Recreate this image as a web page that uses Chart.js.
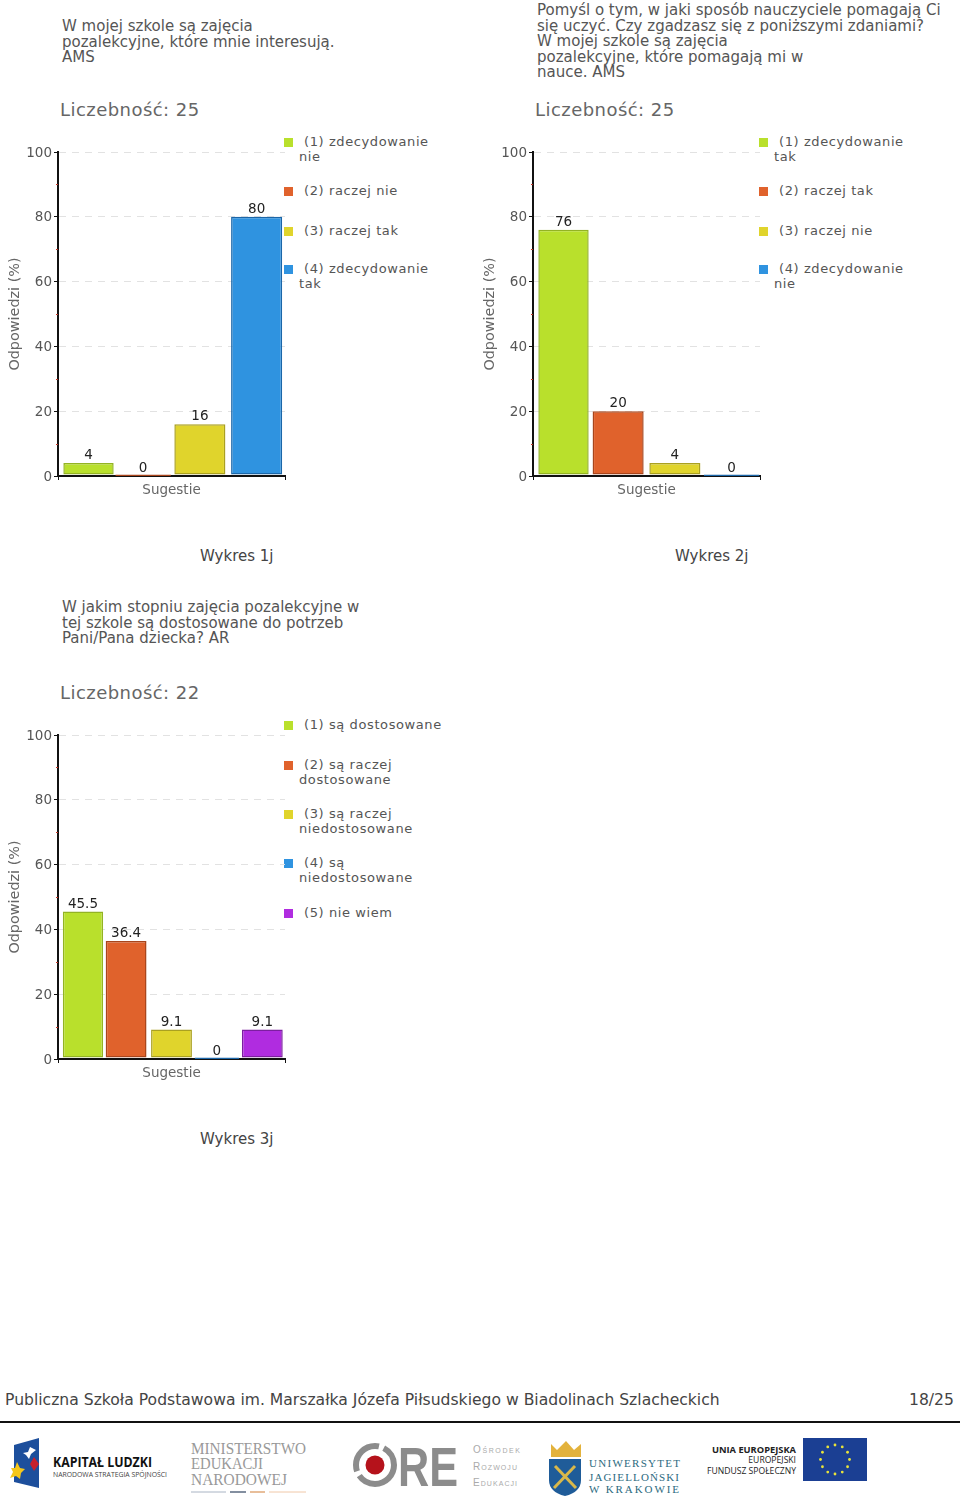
<!DOCTYPE html>
<html lang="pl">
<head>
<meta charset="utf-8">
<title>Wykresy</title>
<script src="https://cdn.jsdelivr.net/npm/chart.js@4"></script>
<style>
  html, body { margin: 0; padding: 0; background: #fff; }
  #page { position: relative; width: 960px; height: 1510px; overflow: hidden; font-family: "DejaVu Sans", sans-serif; }
  .t { position: absolute; white-space: nowrap; line-height: 16px; }
  .q { font-size: 15px; color: #555; }
  .count { font-size: 18px; color: #666; letter-spacing: 0.45px; line-height: 20px; }
  .cap { font-size: 15px; color: #444; }
  .leg { font-size: 13px; color: #555; letter-spacing: 0.6px; }
  .box { position: absolute; width: 9px; height: 9px; }
  canvas { position: absolute; }
  #logos { position: absolute; left: 0; top: 1420px; }
</style>
</head>
<body>
<div id="page">
  <div style="position:absolute;left:0;top:1421px;width:960px;height:2px;background:#111"></div>
  <div class="t" style="left:5px;top:1392px;font-size:15.6px;color:#444">Publiczna Szkoła Podstawowa im. Marszałka Józefa Piłsudskiego w Biadolinach Szlacheckich</div>
  <div class="t" style="left:909px;top:1392px;font-size:15.6px;color:#444">18/25</div>

  <svg id="logos" width="960" height="90" viewBox="0 0 960 90" xmlns="http://www.w3.org/2000/svg">
    <!-- Kapital Ludzki -->
    <polygon points="14,25 39,18 39,68 14,62" fill="#1d4f9c"/>
    <polygon points="30,27 36,30 31,34 29,39 26,35 23,33 28,32" fill="#fff"/>
    <polygon points="34,37 39,44 34,51 30,44" fill="#c8202c"/>
    <polygon points="17,42 20,48 25,49 21,53 20,59 16,56 10,58 13,52 11,48 15,48" fill="#f5c71a"/>
    <text x="53" y="47" font-family="Open Sans" font-weight="700" font-size="13.5" fill="#111" textLength="99" lengthAdjust="spacingAndGlyphs">KAPITAŁ LUDZKI</text>
    <text x="53" y="57" font-family="Open Sans" font-size="7.4" fill="#444" textLength="114" lengthAdjust="spacingAndGlyphs">NARODOWA STRATEGIA SPÓJNOŚCI</text>
    <!-- MEN -->
    <g font-family="Liberation Serif" font-size="16.5" fill="#999">
      <text x="191" y="34" textLength="115" lengthAdjust="spacingAndGlyphs">MINISTERSTWO</text>
      <text x="191" y="49" textLength="72" lengthAdjust="spacingAndGlyphs">EDUKACJI</text>
      <text x="191" y="65" textLength="96" lengthAdjust="spacingAndGlyphs">NARODOWEJ</text>
    </g>
    <line x1="191" y1="72" x2="226" y2="72" stroke="#a9b4c4" stroke-width="1"/>
    <line x1="230" y1="72" x2="246" y2="72" stroke="#5a6a80" stroke-width="1.5"/>
    <line x1="250" y1="72" x2="265" y2="72" stroke="#e0a878" stroke-width="1.5"/>
    <line x1="269" y1="72" x2="306" y2="72" stroke="#f0c8a8" stroke-width="1"/>
    <!-- ORE -->
    <circle cx="375" cy="45" r="19" fill="none" stroke="#8c8c8c" stroke-width="6" stroke-dasharray="48 5 40 5 21 0"/>
    <circle cx="375" cy="45" r="9.5" fill="#b5121b"/>
    <text x="398" y="66" font-family="Liberation Sans" font-weight="700" font-size="56" fill="#8c8c8c" textLength="60" lengthAdjust="spacingAndGlyphs">RE</text>
    <g font-family="Liberation Sans" font-size="10" fill="#aaa" style="font-variant:small-caps">
      <text x="473" y="33" textLength="47">Ośrodek</text>
      <text x="473" y="50" textLength="44">Rozwoju</text>
      <text x="473" y="66" textLength="44">Edukacji</text>
    </g>
    <!-- UJ -->
    <polygon points="551,37 551,24 557,30 566,21 574,30 581,24 581,37" fill="#e3b23c"/>
    <path d="M549 39 H581 V60 Q581 72 565 76 Q549 72 549 60 Z" fill="#1f5c99"/>
    <line x1="555" y1="46" x2="576" y2="68" stroke="#d9b84a" stroke-width="3"/>
    <line x1="575" y1="46" x2="554" y2="68" stroke="#d9b84a" stroke-width="3"/>
    <g font-family="Liberation Serif" font-size="11" fill="#2c6a80">
      <text x="589" y="47" textLength="91">UNIWERSYTET</text>
      <text x="589" y="61" textLength="90">JAGIELLOŃSKI</text>
      <text x="589" y="73" textLength="90">W KRAKOWIE</text>
    </g>
    <!-- UE -->
    <g font-family="Open Sans" fill="#222" text-anchor="end">
      <text x="796" y="33" font-size="9.3" font-weight="700">UNIA EUROPEJSKA</text>
      <text x="796" y="43" font-size="8.6">EUROPEJSKI</text>
      <text x="796" y="54" font-size="8.6">FUNDUSZ SPOŁECZNY</text>
    </g>
    <rect x="803" y="18" width="64" height="43" fill="#1b3f93"/>
    <g id="euStars" fill="#e8e33a"></g>
  </svg>
</div>

<script>
// values
const categories = ["Sugestie"];
const yTicks = [0, 20, 40, 60, 80, 100];
const minorTicks = [10, 30, 50, 70, 90];

const questions1 = ["W mojej szkole są zajęcia", "pozalekcyjne, które mnie interesują.", "AMS"];
const questions2 = ["Pomyśl o tym, w jaki sposób nauczyciele pomagają Ci", "się uczyć. Czy zgadzasz się z poniższymi zdaniami?", "W mojej szkole są zajęcia", "pozalekcyjne, które pomagają mi w", "nauce. AMS"];
const questions3 = ["W jakim stopniu zajęcia pozalekcyjne w", "tej szkole są dostosowane do potrzeb", "Pani/Pana dziecka? AR"];

const names1 = ["(1) zdecydowanie|nie", "(2) raczej nie", "(3) raczej tak", "(4) zdecydowanie|tak"];
const names2 = ["(1) zdecydowanie|tak", "(2) raczej tak", "(3) raczej nie", "(4) zdecydowanie|nie"];
const names3 = ["(1) są dostosowane", "(2) są raczej|dostosowane", "(3) są raczej|niedostosowane", "(4) są|niedostosowane", "(5) nie wiem"];

const values1 = [4, 0, 16, 80];
const values2 = [76, 20, 4, 0];
const values3 = [45.5, 36.4, 9.1, 0, 9.1];

const fills = ["#b9e02c", "#e0622c", "#e0d42c", "#2f93e0", "#b02ce0"];
const edges = ["#93b323", "#a8451c", "#aaa020", "#1b66a8", "#7c1ea0"];

const page = document.getElementById("page");

// value labels above the bars and the small red ticks on the value axis
const extras = {
    id: "extras",
    afterDatasetsDraw(chart) {
        const ctx = chart.ctx;
        const y = chart.scales.y;
        ctx.save();
        ctx.strokeStyle = "#c0392b";
        ctx.lineWidth = 1;
        minorTicks.forEach(v => {
            const py = Math.round(y.getPixelForValue(v)) + 0.5;
            ctx.beginPath();
            ctx.moveTo(y.right - 2, py);
            ctx.lineTo(y.right, py);
            ctx.stroke();
        });
        ctx.font = "13.5px 'DejaVu Sans'";
        ctx.fillStyle = "#222";
        ctx.textAlign = "center";
        ctx.textBaseline = "middle";
        chart.data.datasets.forEach((ds, i) => {
            const bar = chart.getDatasetMeta(i).data[0];
            ctx.fillText(String(ds.data[0]), bar.x, y.getPixelForValue(ds.data[0]) - 7.5);
        });
        ctx.restore();
    }
};

function addText(text, cls, left, top) {
    const el = document.createElement("div");
    el.className = "t " + cls;
    el.style.left = left + "px";
    el.style.top = top + "px";
    el.textContent = text;
    page.appendChild(el);
}

function addLegend(names, rows, dx, dy) {
    names.forEach((name, i) => {
        const box = document.createElement("div");
        box.className = "box";
        box.style.left = (284 + dx) + "px";
        box.style.top = (rows[i] - 3 + dy) + "px";
        box.style.background = fills[i];
        page.appendChild(box);
        const lines = name.split("|");
        addText(lines[0], "leg", 304 + dx, rows[i] - 7 + dy);
        if (lines[1]) addText(lines[1], "leg", 299 + dx, rows[i] + 8 + dy);
    });
}

function addChart(values, names, dx, dy) {
    const canvas = document.createElement("canvas");
    canvas.style.left = dx + "px";
    canvas.style.top = (130 + dy) + "px";
    canvas.style.width = "290px";
    canvas.style.height = "375px";
    page.appendChild(canvas);

    new Chart(canvas, {
        type: "bar",
        plugins: [extras],
        data: {
            labels: categories,
            datasets: values.map((v, i) => ({
                label: names[i].replace("|", " "),
                data: [v],
                base: 0.5,
                backgroundColor: fills[i],
                borderColor: edges[i],
                borderWidth: 1.5,
                borderSkipped: false,
                categoryPercentage: i === 0 ? 0.975 : 1,
                barPercentage: v === 0 ? 0.98 : (i === 0 ? 0.91 : 0.9)
            }))
        },
        options: {
            responsive: false,
            animation: false,
            devicePixelRatio: 1,
            layout: { padding: { top: 22, right: 5, left: 0, bottom: 0 } },
            plugins: { legend: { display: false }, tooltip: { enabled: false } },
            scales: {
                x: {
                    afterFit: s => { s.height = 29; },
                    grid: { drawOnChartArea: false, tickColor: "#111", tickLength: 4 },
                    border: { color: "#111", width: 2 },
                    ticks: { color: "#666", font: { family: "DejaVu Sans", size: 13.5 }, padding: 2 }
                },
                y: {
                    min: 0,
                    max: 100,
                    afterFit: s => { s.width = 58; },
                    title: { display: true, text: "Odpowiedzi (%)", color: "#666", font: { family: "DejaVu Sans", size: 14.4 }, padding: { top: 7, bottom: 0 } },
                    grid: {
                        color: c => (c.tick.value % 20 === 0 && c.tick.value > 0) ? "#e2e2e2" : "transparent",
                        tickColor: c => c.tick.value % 20 === 0 ? "#111" : "transparent",
                        tickLength: 4
                    },
                    border: { color: "#111", width: 2, dash: [7, 6] },
                    ticks: {
                        stepSize: 10,
                        autoSkip: false,
                        maxRotation: 0,
                        padding: 2,
                        labelOffset: 1,
                        color: "#555",
                        font: { family: "DejaVu Sans", size: 13.5 },
                        callback: v => yTicks.includes(v) ? String(v) : ""
                    }
                }
            }
        }
    });
}

function addPanel(questions, firstLine, values, names, rows, caption, dx, dy) {
    questions.forEach((line, i) => addText(line, "q", 62 + dx, firstLine + i * 15.6));
    addText("Liczebność: " + values.count, "count", 60 + dx, 100 + dy);
    addLegend(names, rows, dx, dy);
    addChart(values.data, names, dx, dy);
    addText(caption, "cap", 200 + dx, 548 + dy);
}

const rows4 = [141, 190, 230, 268];
const rows5 = [141, 181, 230, 279, 329];

addPanel(questions1, 18, { count: 25, data: values1 }, names1, rows4, "Wykres 1j", 0, 0);
addPanel(questions2, 2, { count: 25, data: values2 }, names2, rows4, "Wykres 2j", 475, 0);
addPanel(questions3, 599, { count: 22, data: values3 }, names3, rows5, "Wykres 3j", 0, 583);

// twelve stars of the EU flag
const stars = document.getElementById("euStars");
for (let k = 0; k < 12; k++) {
    const c = document.createElementNS("http://www.w3.org/2000/svg", "circle");
    c.setAttribute("cx", 835 + 14.5 * Math.sin(k * Math.PI / 6));
    c.setAttribute("cy", 39.5 - 14.5 * Math.cos(k * Math.PI / 6));
    c.setAttribute("r", 1.4);
    stars.appendChild(c);
}
</script>
</body>
</html>
